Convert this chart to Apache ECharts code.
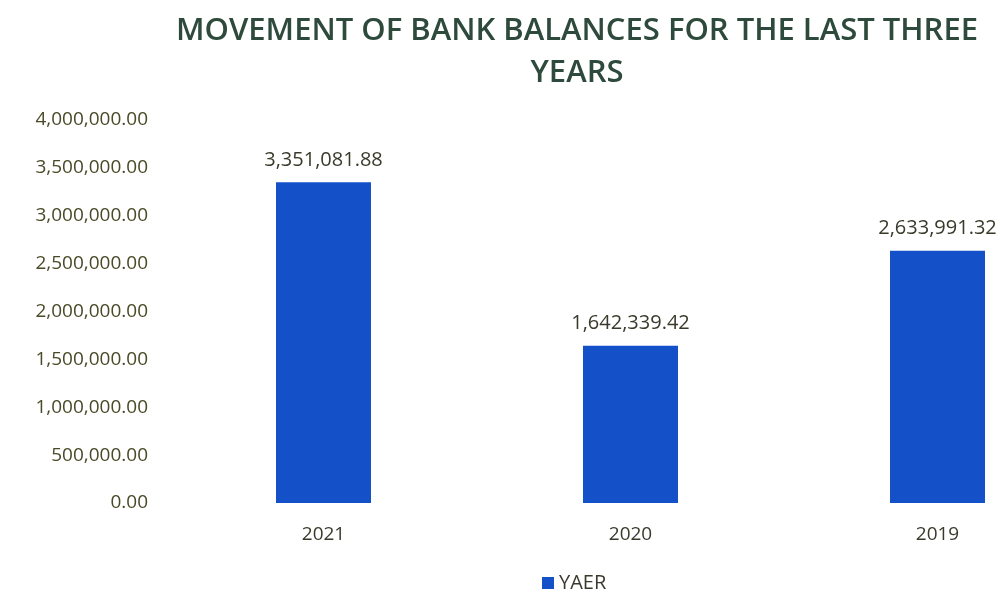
<!DOCTYPE html>
<html><head><meta charset="utf-8">
<script src="https://cdn.jsdelivr.net/npm/echarts@6/dist/echarts.min.js"></script>
<style>html,body{margin:0;padding:0;background:#fff;overflow:hidden}#c{width:1091px;height:616px}</style>
</head><body><div id="c"></div>
<script>
const titleText = "MOVEMENT OF BANK BALANCES FOR THE LAST THREE\nYEARS";
const categories = ["2021", "2020", "2019"];
const seriesName = "YAER";
const values = [3351081.88, 1642339.42, 2633991.32];
const yMin = 0, yMax = 4000000, yInterval = 500000;

const fmt = v => Number(v).toLocaleString('en-US', {minimumFractionDigits: 2, maximumFractionDigits: 2});
const font = "'Open Sans', 'Liberation Sans', sans-serif";
const chart = echarts.init(document.getElementById('c'));
chart.setOption({
  backgroundColor: '#ffffff',
  animation: false,
  title: {
    text: titleText,
    left: 572, top: 5, textAlign: 'center',
    textStyle: {fontFamily: font, fontSize: 31, fontWeight: 600, color: '#2e4a3c', lineHeight: 42}
  },
  legend: {
    data: [seriesName], bottom: 18, left: 537,
    icon: 'rect', itemWidth: 12, itemHeight: 12, itemGap: 5,
    textStyle: {fontFamily: font, fontSize: 20, color: '#3a3a2c'}
  },
  grid: {left: 170, right: 0, top: 120, bottom: 113, containLabel: false},
  xAxis: {
    type: 'category', data: categories,
    axisLine: {show: false}, axisTick: {show: false},
    axisLabel: {fontFamily: font, fontSize: 19, color: '#3a3a2c', margin: 22}
  },
  yAxis: {
    type: 'value', min: yMin, max: yMax, interval: yInterval,
    axisLine: {show: false}, axisTick: {show: false},
    splitLine: {show: false},
    axisLabel: {fontFamily: font, fontSize: 19, color: '#4a4a28', margin: 22, formatter: v => fmt(v)}
  },
  series: [{
    name: seriesName, type: 'bar', data: values, barWidth: 95,
    itemStyle: {color: '#1450c8'},
    label: {show: true, position: 'top', distance: 12, fontFamily: font, fontSize: 20, color: '#3a3a2c', formatter: p => fmt(p.value)}
  }]
});
</script></body></html>
